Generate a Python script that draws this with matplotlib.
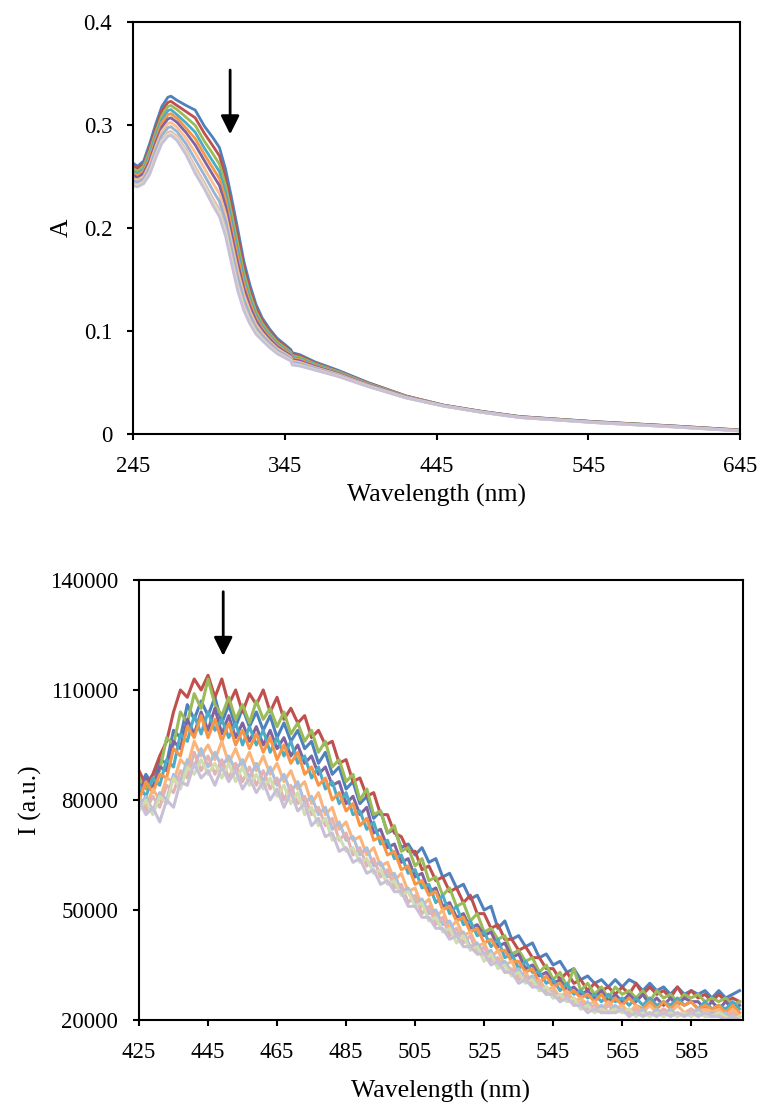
import numpy as np
import matplotlib.pyplot as plt

plt.rcParams['font.family'] = ['Liberation Serif', 'DejaVu Serif']

# ---- top panel: absorbance spectra ----
uv_wl = [245, 248, 252, 256, 260, 264, 268, 270, 274, 280, 286, 292, 298, 302,
         306, 310, 314, 318, 322, 326, 330, 335, 340, 345, 349, 350, 355, 365,
         380, 400, 425, 450, 475, 500, 550, 600, 645]

uv_1 = [0.263, 0.260, 0.265, 0.282, 0.301, 0.318, 0.327, 0.328, 0.324, 0.319, 0.3145, 0.299, 0.287, 0.278,
        0.257, 0.229, 0.199, 0.168, 0.145, 0.126, 0.113, 0.102, 0.093, 0.087, 0.082, 0.079, 0.077, 0.070,
        0.062, 0.050, 0.037, 0.028, 0.022, 0.017, 0.012, 0.008, 0.004]
uv_2 = [0.260, 0.258, 0.262, 0.278, 0.297, 0.314, 0.322, 0.323, 0.319, 0.313, 0.307, 0.292, 0.279, 0.270,
        0.249, 0.221, 0.192, 0.162, 0.140, 0.1225, 0.1104, 0.0998, 0.0912, 0.0854, 0.0807, 0.0776, 0.0757, 0.069,
        0.061, 0.0495, 0.0368, 0.0279, 0.0219, 0.0169, 0.0119, 0.0079, 0.0039]
uv_3 = [0.258, 0.255, 0.260, 0.275, 0.293, 0.309, 0.318, 0.319, 0.315, 0.3075, 0.2997, 0.2844, 0.2712, 0.2619,
        0.2414, 0.2136, 0.1846, 0.1565, 0.1359, 0.119, 0.1077, 0.0977, 0.0894, 0.0839, 0.0794, 0.0761, 0.0744, 0.0681,
        0.0606, 0.049, 0.0365, 0.0278, 0.0218, 0.0168, 0.0118, 0.0078, 0.0038]
uv_4 = [0.255, 0.253, 0.257, 0.2715, 0.2895, 0.305, 0.314, 0.315, 0.310, 0.302, 0.293, 0.2777, 0.2639, 0.2546,
        0.2343, 0.2066, 0.178, 0.1512, 0.1317, 0.1159, 0.1053, 0.0957, 0.0878, 0.0825, 0.0782, 0.0748, 0.0732, 0.0672,
        0.060, 0.0486, 0.0363, 0.0277, 0.0217, 0.0167, 0.0117, 0.0077, 0.0037]
uv_5 = [0.253, 0.251, 0.255, 0.2685, 0.286, 0.302, 0.310, 0.311, 0.3065, 0.297, 0.2868, 0.2716, 0.2573, 0.2479,
        0.2278, 0.2002, 0.172, 0.1464, 0.1279, 0.113, 0.1031, 0.0939, 0.0863, 0.0812, 0.0771, 0.0736, 0.0721, 0.0664,
        0.0593, 0.0482, 0.0361, 0.0276, 0.0216, 0.0166, 0.0116, 0.0076, 0.0036]
uv_6 = [0.251, 0.249, 0.253, 0.2655, 0.283, 0.298, 0.306, 0.307, 0.3026, 0.2926, 0.2807, 0.2655, 0.2507, 0.2412,
        0.2213, 0.1938, 0.166, 0.1416, 0.1241, 0.1101, 0.1009, 0.0921, 0.0848, 0.0799, 0.076, 0.0724, 0.071, 0.0656,
        0.0587, 0.0478, 0.0359, 0.0275, 0.0215, 0.0165, 0.0115, 0.0075, 0.0035]
uv_7 = [0.248, 0.2466, 0.250, 0.262, 0.279, 0.294, 0.3015, 0.3025, 0.298, 0.287, 0.2733, 0.2581, 0.2428, 0.2331,
        0.2135, 0.1861, 0.1588, 0.1358, 0.1195, 0.1066, 0.0983, 0.0899, 0.083, 0.0783, 0.0746, 0.071, 0.0696, 0.0646,
        0.058, 0.0473, 0.0357, 0.0273, 0.0213, 0.0163, 0.0113, 0.0073, 0.0033]
uv_8 = [0.2458, 0.2444, 0.2478, 0.2586, 0.2753, 0.290, 0.2974, 0.2984, 0.2936, 0.2816, 0.2665, 0.2514, 0.2355, 0.2257,
        0.2063, 0.1791, 0.1522, 0.1306, 0.1154, 0.1034, 0.0958, 0.088, 0.0813, 0.0769, 0.0734, 0.0696, 0.0684, 0.0638,
        0.0573, 0.0469, 0.0354, 0.0272, 0.0212, 0.0162, 0.0112, 0.0072, 0.0032]
uv_9 = [0.2432, 0.242, 0.2452, 0.255, 0.2713, 0.2856, 0.2928, 0.2938, 0.2889, 0.2758, 0.2592, 0.2441, 0.2276, 0.2177,
        0.1985, 0.1714, 0.145, 0.1248, 0.1108, 0.0999, 0.0932, 0.0858, 0.0795, 0.0753, 0.0721, 0.0682, 0.0671, 0.0628,
        0.0566, 0.0464, 0.0352, 0.0271, 0.0211, 0.0161, 0.0111, 0.0071, 0.0031]
uv_10 = [0.2421, 0.241, 0.2441, 0.2535, 0.2697, 0.2838, 0.2909, 0.2919, 0.2870, 0.2734, 0.2561, 0.2411, 0.2243, 0.2144,
         0.1953, 0.1682, 0.142, 0.1224, 0.1089, 0.0985, 0.0921, 0.0849, 0.0788, 0.0747, 0.0716, 0.0676, 0.0666, 0.0624,
         0.0563, 0.0462, 0.0351, 0.0270, 0.0210, 0.0160, 0.0110, 0.0070, 0.0030]
uv_11 = [0.241, 0.240, 0.243, 0.252, 0.268, 0.282, 0.289, 0.290, 0.285, 0.271, 0.253, 0.238, 0.221, 0.211,
         0.192, 0.165, 0.139, 0.120, 0.107, 0.097, 0.091, 0.084, 0.078, 0.074, 0.071, 0.067, 0.066, 0.062,
         0.056, 0.046, 0.035, 0.027, 0.021, 0.016, 0.011, 0.007, 0.003]

uv_curves = [uv_1, uv_2, uv_3, uv_4, uv_5, uv_6, uv_7, uv_8, uv_9, uv_10, uv_11]

# ---- bottom panel: emission spectra (values in units of 1000) ----
fl_wl = np.arange(425, 600, 2)

fl_blue = [83, 87, 84, 91, 90, 99, 97, 106, 102, 107,
           103, 108, 101, 106, 100, 105, 100, 104, 99, 103,
           97, 101, 96, 99, 94, 96, 90, 93, 87, 89,
           83, 85, 79, 81, 75, 77, 71, 72, 67, 68,
           65, 67, 63, 64, 59, 60, 56, 57, 53, 54,
           50, 51, 45, 47, 42, 43, 40, 41, 37, 38,
           35, 36, 33, 34, 31, 32, 30, 31, 29, 31,
           29, 31, 30, 28, 30, 28, 29, 27, 29, 27,
           28, 27, 28, 26, 28, 26, 27, 28]
fl_red = [88, 84, 87, 92, 96, 104, 110, 108, 113, 110,
          114, 108, 113, 106, 110, 104, 109, 106, 110, 104,
          108, 102, 105, 101, 103, 97, 99, 95, 96, 90,
          91, 85, 86, 81, 82, 76, 76, 71, 70, 66,
          66, 61, 62, 58, 59, 55, 56, 52, 54, 49,
          49, 45, 46, 42, 42, 39, 40, 37, 37, 34,
          34, 31, 33, 30, 31, 28, 30, 28, 29, 27,
          29, 27, 30, 27, 29, 27, 28, 26, 29, 26,
          28, 26, 27, 25, 27, 25, 26, 25]
fl_green = [86, 83, 85, 88, 97, 95, 104, 101, 109, 105,
            113, 106, 103, 108, 102, 106, 101, 107, 102, 105,
            100, 104, 98, 101, 96, 99, 93, 96, 89, 91,
            85, 87, 80, 83, 76, 77, 71, 73, 66, 67,
            62, 64, 58, 59, 54, 56, 51, 52, 47, 49,
            44, 45, 42, 43, 38, 39, 36, 37, 33, 35,
            31, 33, 29, 34, 28, 30, 27, 29, 26, 29,
            27, 28, 26, 28, 25, 28, 26, 27, 25, 27,
            26, 27, 25, 26, 25, 26, 24, 25]
fl_purple = [82, 86, 83, 89, 88, 96, 94, 102, 98, 104,
             99, 105, 98, 103, 97, 101, 96, 100, 95, 99,
             94, 97, 92, 95, 90, 92, 87, 89, 84, 85,
             79, 81, 76, 78, 71, 72, 67, 68, 63, 64,
             59, 60, 55, 56, 51, 52, 48, 49, 45, 46,
             43, 44, 40, 41, 37, 38, 34, 35, 32, 33,
             30, 31, 28, 29, 27, 28, 26, 28, 25, 27,
             25, 27, 25, 27, 24, 26, 24, 26, 24, 26,
             25, 25, 23, 25, 23, 25, 23, 24]
fl_aqua = [84, 81, 86, 84, 91, 89, 98, 96, 103, 98,
           104, 99, 102, 97, 101, 95, 100, 95, 99, 93,
           97, 92, 96, 90, 92, 86, 89, 83, 85, 79,
           82, 76, 77, 72, 74, 68, 69, 64, 65, 60,
           61, 56, 57, 52, 54, 49, 51, 46, 47, 43,
           44, 40, 42, 37, 38, 34, 36, 33, 33, 30,
           31, 28, 30, 27, 28, 26, 27, 25, 27, 25,
           26, 24, 26, 24, 26, 24, 25, 24, 26, 24,
           25, 23, 25, 23, 24, 23, 25, 23]
fl_orange = [80, 85, 82, 87, 86, 94, 92, 100, 97, 103,
             97, 102, 96, 101, 95, 99, 94, 98, 93, 97,
             91, 95, 90, 93, 87, 89, 84, 86, 80, 82,
             77, 79, 73, 75, 69, 70, 65, 66, 61, 62,
             57, 58, 54, 55, 50, 51, 47, 48, 44, 45,
             41, 42, 39, 39, 36, 36, 33, 34, 30, 32,
             29, 30, 27, 28, 26, 27, 25, 27, 24, 26,
             24, 26, 24, 23, 25, 23, 25, 23, 25, 24,
             25, 23, 24, 23, 24, 22, 24, 22]
fl_lorange = [81, 78, 83, 80, 86, 85, 91, 89, 96, 92,
              95, 91, 96, 90, 94, 89, 93, 88, 92, 87,
              90, 85, 88, 83, 85, 79, 82, 76, 78, 72,
              74, 69, 70, 65, 67, 62, 63, 58, 60, 55,
              56, 51, 53, 48, 50, 45, 47, 43, 44, 40,
              41, 37, 39, 35, 36, 32, 33, 30, 31, 28,
              29, 26, 28, 25, 26, 24, 25, 23, 25, 23,
              24, 22, 24, 22, 24, 22, 23, 22, 24, 22,
              23, 22, 23, 22, 23, 21, 23, 21]
fl_lblue = [78, 81, 77, 82, 80, 87, 85, 91, 89, 94,
            89, 93, 89, 92, 88, 91, 86, 90, 85, 89,
            84, 87, 82, 85, 79, 81, 76, 78, 72, 74,
            69, 70, 65, 67, 62, 63, 59, 60, 55, 56,
            52, 53, 49, 50, 46, 47, 43, 44, 40, 41,
            38, 39, 35, 36, 33, 34, 31, 32, 28, 29,
            26, 27, 25, 26, 23, 25, 22, 24, 22, 24,
            22, 23, 21, 23, 21, 23, 21, 23, 21, 22,
            21, 23, 21, 22, 21, 22, 20, 21]
fl_pink = [80, 77, 81, 78, 84, 82, 88, 86, 93, 88,
           92, 87, 91, 86, 90, 85, 89, 84, 88, 83,
           86, 80, 84, 79, 81, 76, 78, 73, 75, 69,
           71, 65, 67, 62, 64, 59, 61, 56, 57, 52,
           54, 49, 51, 46, 48, 43, 45, 41, 43, 38,
           40, 36, 37, 33, 34, 31, 32, 29, 30, 27,
           28, 25, 27, 24, 25, 23, 24, 22, 24, 22,
           23, 21, 23, 21, 22, 21, 23, 21, 22, 21,
           23, 21, 22, 21, 22, 20, 22, 20]
fl_lgreen = [77, 80, 76, 81, 79, 86, 83, 89, 87, 91,
             87, 90, 86, 90, 85, 89, 84, 87, 83, 86,
             81, 84, 79, 82, 76, 78, 73, 75, 69, 70,
             66, 67, 63, 64, 60, 61, 57, 58, 54, 55,
             51, 52, 47, 48, 44, 45, 41, 43, 39, 40,
             36, 38, 34, 35, 32, 33, 30, 31, 28, 29,
             26, 27, 25, 26, 23, 24, 22, 23, 22, 23,
             22, 23, 21, 22, 21, 22, 21, 22, 21, 22,
             21, 22, 21, 21, 22, 21, 20, 21]
fl_lavender = [80, 76, 78, 74, 80, 78, 85, 84, 90, 86,
               88, 84, 89, 85, 88, 83, 86, 82, 85, 80,
               83, 78, 82, 77, 79, 73, 75, 70, 71, 66,
               67, 63, 64, 60, 61, 57, 58, 55, 55, 51,
               51, 48, 48, 45, 45, 42, 43, 40, 40, 38,
               38, 35, 36, 33, 33, 30, 31, 29, 29, 27,
               27, 25, 26, 24, 24, 22, 23, 22, 22, 22,
               23, 21, 22, 21, 22, 21, 22, 21, 22, 21,
               22, 21, 22, 21, 21, 20, 21, 20]

fl_curves = [fl_blue, fl_red, fl_green, fl_purple, fl_aqua, fl_orange,
             fl_lorange, fl_lblue, fl_pink, fl_lgreen, fl_lavender]

uv_colors = ['#4F81BD', '#C0504D', '#9BBB59', '#4BACC6', '#F79646', '#8064A2',
             '#FAC090', '#95B3D7', '#E6B9B8', '#D7E4BD', '#C9C0D8']
fl_colors = ['#4F81BD', '#C0504D', '#9BBB59', '#8064A2', '#4BACC6', '#F79646',
             '#FAB57C', '#A9C0DE', '#E3B3B2', '#CFDDB0', '#C9C0D8']

uv_yticks = [0, 0.1, 0.2, 0.3, 0.4]
uv_yticklabels = ['0', '0.1', '0.2', '0.3', '0.4']
uv_xticks = [245, 345, 445, 545, 645]
fl_yticks = [20000, 50000, 80000, 110000, 140000]
fl_xticks = [425, 445, 465, 485, 505, 525, 545, 565, 585]


def style_axes(ax):
    for s in ax.spines.values():
        s.set_linewidth(1.5)
    ax.tick_params(direction='out', length=4.5, width=1.5, labelsize=16.5,
                   top=False, right=False)
    ax.tick_params(axis='x', pad=11)
    ax.tick_params(axis='y', pad=10.5)


fig = plt.figure(figsize=(7.6, 11.07), dpi=100)

ax1 = fig.add_axes([0.175, 0.6079, 0.7987, 0.3722])
for y, c in zip(uv_curves, uv_colors):
    ax1.plot(uv_wl, y, color=c, lw=2.0, solid_joinstyle='round')
ax1.set_xlim(245, 645)
ax1.set_ylim(0, 0.4)
ax1.set_xticks(uv_xticks)
ax1.set_yticks(uv_yticks)
ax1.set_yticklabels(uv_yticklabels)
style_axes(ax1)
ax1.set_xlabel('Wavelength (nm)', fontsize=18.5)
ax1.xaxis.set_label_coords(0.5, -0.121)
ax1.set_ylabel('A', fontsize=18.5, va='center')
ax1.yaxis.set_label_coords(-0.117, 0.5)
ax1.annotate('', xy=(309, 0.291), xytext=(309, 0.3534),
             arrowprops=dict(arrowstyle='-|>', color='black', lw=2,
                             mutation_scale=28, shrinkA=0, shrinkB=0))

ax2 = fig.add_axes([0.1829, 0.0786, 0.7947, 0.3975])
for y, c in zip(fl_curves, fl_colors):
    ax2.plot(fl_wl, np.array(y) * 1000, color=c, lw=2.2, solid_joinstyle='round')
ax2.set_xlim(425, 600)
ax2.set_ylim(20000, 140000)
ax2.set_xticks(fl_xticks)
ax2.set_yticks(fl_yticks)
ax2.set_yticklabels([str(v) for v in fl_yticks])
style_axes(ax2)
ax2.set_xlabel('Wavelength (nm)', fontsize=18.5)
ax2.xaxis.set_label_coords(0.5, -0.136)
ax2.set_ylabel('I (a.u.)', fontsize=18.5, va='center')
ax2.yaxis.set_label_coords(-0.1805, 0.5)
ax2.annotate('', xy=(449.4, 119300), xytext=(449.4, 136800),
             arrowprops=dict(arrowstyle='-|>', color='black', lw=2,
                             mutation_scale=28, shrinkA=0, shrinkB=0))

fig.savefig('out.png', dpi=100)
